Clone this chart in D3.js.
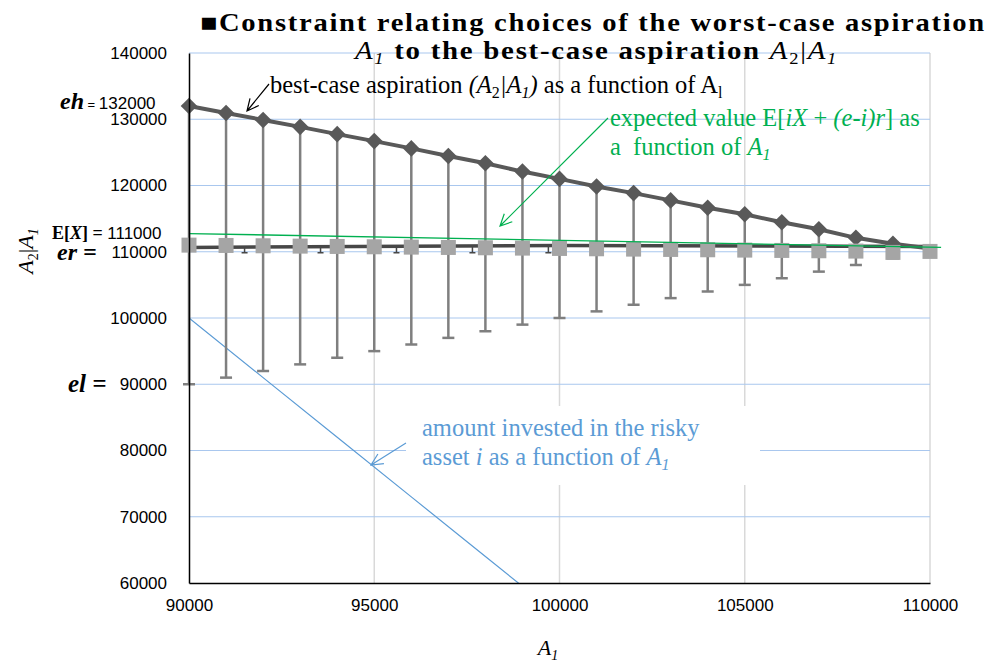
<html>
<style>
    body {
        margin: 0;
        background: #ffffff;
    }
    svg text {
        font-family: "Liberation Serif", "Times New Roman", serif;
        white-space: pre;
    }
    .tick text {
        font-family: "Liberation Sans", Arial, Helvetica, sans-serif;
        font-size: 17px;
        fill: #000000;
    }
</style>

<script src="https://d3js.org/d3.v7.min.js"></script>

<body>
<svg id="Chart"></svg>
</body>

<script>
// worst-case aspiration A1 (x positions of the markers)
let A1 = [90000, 91000, 92000, 93000, 94000, 95000, 96000, 97000, 98000, 99000,
          100000, 101000, 102000, 103000, 104000, 105000, 106000, 107000, 108000, 109000, 110000]
// best-case aspiration A2|A1 (diamonds)
let bestCase = [132000, 130950, 129900, 128850, 127750, 126700, 125600, 124450, 123350, 122100,
                121000, 119850, 118850, 117750, 116650, 115650, 114450, 113400, 112100, 111200, 110500]
// grey squares
let squareVals = [111000, 110950, 110900, 110850, 110800, 110750, 110700, 110650, 110600, 110550,
                  110500, 110450, 110400, 110350, 110300, 110250, 110200, 110150, 110100, 109900, 110050]
// lower ends of the error bars
let barLow = [90000, 91000, 92000, 93000, 94000, 95000, 96000, 97000, 98000, 99000,
              100000, 101000, 102000, 103000, 104000, 105000, 106000, 107000, 108000, 109000, 110000]
// dark line behind the squares
let darkX = [90000, 100000, 110000]
let darkY = [110650, 110950, 110800]
let capX = [91500, 93550, 95600, 97650, 99700]
// expected value (green)
let greenX = [90000, 110300]
let greenY = [112750, 110650]
// amount invested in the risky asset (blue)
let blueX = [90000, 92000, 94000, 96000, 98000, 100000]
let blueY = [100000, 91000, 82000, 73000, 64000, 55000]

let xTicks = [90000, 95000, 100000, 105000, 110000]
let yTicks = [60000, 70000, 80000, 90000, 100000, 110000, 120000, 130000, 140000]

let width = 994, height = 663
let svg = d3.select('#Chart').attr('width', width).attr('height', height)

let x = d3.scaleLinear().domain([90000, 110000]).range([189, 930])
let y = d3.scaleLinear().domain([60000, 140000]).range([583, 53])

let SANS = '"Liberation Sans", Arial, Helvetica, sans-serif'

// clip for data lines
svg.append('clipPath').attr('id', 'plotClip')
    .append('rect').attr('x', 189).attr('y', 40).attr('width', 760).attr('height', 543)

// gridlines
svg.append('g').selectAll('line').data(xTicks.slice(1)).enter().append('line')
    .attr('x1', d => x(d)).attr('x2', d => x(d))
    .attr('y1', y(140000)).attr('y2', y(60000))
    .attr('stroke', '#d9d9d9').attr('stroke-width', 1.5)
svg.append('g').selectAll('line').data(yTicks.slice(1)).enter().append('line')
    .attr('x1', x(90000)).attr('x2', x(110000))
    .attr('y1', d => y(d)).attr('y2', d => y(d))
    .attr('stroke', '#a9c7ee').attr('stroke-width', 1)

// white box behind the blue note
svg.append('rect').attr('x', 406).attr('y', 406).attr('width', 354).attr('height', 79).attr('fill', '#ffffff')

// title
svg.append('text')
    .attr('x', 200).attr('y', 31)
    .attr('textLength', 786).attr('lengthAdjust', 'spacingAndGlyphs')
    .style('font-size', '25px').style('font-weight', 'bold').style('letter-spacing', '1.5px')
    .text('\u25A0Constraint relating choices of the worst-case aspiration')
let t2 = svg.append('text')
    .attr('x', 355).attr('y', 59)
    .attr('textLength', 483).attr('lengthAdjust', 'spacingAndGlyphs')
    .style('font-size', '25px').style('font-weight', 'bold').style('letter-spacing', '1.5px')
t2.append('tspan').style('font-style', 'italic').style('font-weight', 'normal').text('A')
t2.append('tspan').attr('dy', 5).style('font-size', '16px').style('font-style', 'italic').style('font-weight', 'normal').text('1')
t2.append('tspan').attr('dy', -5).text(' to the best-case aspiration ')
t2.append('tspan').style('font-style', 'italic').style('font-weight', 'normal').text('A')
t2.append('tspan').attr('dy', 5).style('font-size', '16px').style('font-weight', 'normal').text('2')
t2.append('tspan').attr('dy', -5).style('font-weight', 'normal').text('|')
t2.append('tspan').style('font-style', 'italic').style('font-weight', 'normal').text('A')
t2.append('tspan').attr('dy', 5).style('font-size', '16px').style('font-style', 'italic').style('font-weight', 'normal').text('1')

// blue line
let line = d3.line().x(d => x(d[0])).y(d => y(d[1]))
svg.append('path')
    .datum(d3.zip(blueX, blueY))
    .attr('clip-path', 'url(#plotClip)')
    .attr('d', line)
    .attr('fill', 'none').attr('stroke', '#5b9bd5').attr('stroke-width', 1.2)

// error bars
let bars = d3.zip(A1, barLow, bestCase).filter(d => d[2] > d[1])
svg.append('g').selectAll('line').data(bars).enter().append('line')
    .attr('x1', d => x(d[0])).attr('x2', d => x(d[0]))
    .attr('y1', d => y(d[1])).attr('y2', d => y(d[2]))
    .attr('stroke', '#7f7f7f').attr('stroke-width', 2.5)
svg.append('g').selectAll('line').data(bars).enter().append('line')
    .attr('x1', d => x(d[0]) - 6).attr('x2', d => x(d[0]) + 6)
    .attr('y1', d => y(d[1])).attr('y2', d => y(d[1]))
    .attr('stroke', '#7f7f7f').attr('stroke-width', 2.5)

// dark line and its small caps
svg.append('path')
    .datum(d3.zip(darkX, darkY))
    .attr('d', line)
    .attr('fill', 'none').attr('stroke', '#474747').attr('stroke-width', 3.5)
let darkAt = d3.scaleLinear().domain(darkX).range(darkY)
svg.append('g').selectAll('path').data(capX).enter().append('path')
    .attr('d', d => `M${x(d)},${y(darkAt(d))}V${y(110000) + 1}M${x(d) - 3},${y(110000) + 1}H${x(d) + 3}`)
    .attr('fill', 'none').attr('stroke', '#474747').attr('stroke-width', 1.5)

// best-case line + diamonds
svg.append('path')
    .datum(d3.zip(A1, bestCase))
    .attr('d', line)
    .attr('fill', 'none').attr('stroke', '#595959').attr('stroke-width', 4)
svg.append('g').selectAll('path').data(d3.zip(A1, bestCase).filter(d => d[0] < 110000)).enter().append('path')
    .attr('transform', d => `translate(${x(d[0])},${y(d[1])})`)
    .attr('d', d3.symbol(d3.symbolDiamond2, 175))
    .attr('fill', '#595959')

// squares
svg.append('g').selectAll('rect').data(d3.zip(A1, squareVals)).enter().append('rect')
    .attr('x', d => x(d[0]) - 7.5).attr('y', d => y(d[1]) - 7.5)
    .attr('width', 15).attr('height', 15)
    .attr('fill', '#a5a5a5')

// green line
svg.append('path')
    .datum(d3.zip(greenX, greenY))
    .attr('d', line)
    .attr('fill', 'none').attr('stroke', '#00b050').attr('stroke-width', 1.3)

// axes
svg.append('g').attr('transform', `translate(${x(90000)},0)`)
    .call(d3.axisLeft(y).tickValues(yTicks).tickSize(0).tickPadding(22).tickFormat(d3.format('d')))
svg.append('g').attr('transform', `translate(0,${y(60000)})`)
    .call(d3.axisBottom(x).tickValues(xTicks).tickSize(0).tickPadding(16).tickFormat(d3.format('d')))
svg.selectAll('.domain').attr('stroke', '#000000').attr('stroke-width', 1.5)

// rich text helper
function label(xp, yp, parts, anchor) {
    let t = svg.append('text').attr('x', xp).attr('y', yp).attr('text-anchor', anchor || 'start')
    parts.forEach(p => {
        let s = t.append('tspan').text(p.text)
        if (p.family) s.style('font-family', p.family)
        if (p.size) s.style('font-size', p.size + 'px')
        if (p.bold) s.style('font-weight', 'bold')
        if (p.italic) s.style('font-style', 'italic')
        if (p.dy) s.attr('dy', p.dy)
    })
    return t
}
// extra y labels
label(60, 109, [{text: 'eh', size: 24, bold: true, italic: true},
                {text: ' = ', family: SANS, size: 13},
                {text: '132000', family: SANS, size: 17}])
label(52, 239, [{text: 'E[', size: 18, bold: true},
                {text: 'X', size: 18, bold: true, italic: true},
                {text: '] = ', size: 18, bold: true},
                {text: '111000', family: SANS, size: 17}])
label(57, 260, [{text: 'er =', size: 24, bold: true, italic: true}])
label(68, 392, [{text: 'el =', size: 25, bold: true, italic: true}])

// axis titles
label(548, 655, [{text: 'A', size: 22, italic: true},
                 {text: '1', size: 14, italic: true, dy: 5}], 'middle')
label(0, 0, [{text: 'A', size: 22, italic: true},
             {text: '2', size: 14, dy: 5},
             {text: '|', size: 22, dy: -5},
             {text: 'A', size: 22, italic: true},
             {text: '1', size: 14, italic: true, dy: 5}], 'middle')
    .attr('transform', 'translate(33,251) rotate(-90)')

// annotations
function arrow(x1, y1, x2, y2, color) {
    let a = Math.atan2(y2 - y1, x2 - x1), L = 13, w = 0.45
    let p = `M${x1},${y1}L${x2},${y2}` +
        `M${x2 - L * Math.cos(a - w)},${y2 - L * Math.sin(a - w)}L${x2},${y2}` +
        `L${x2 - L * Math.cos(a + w)},${y2 - L * Math.sin(a + w)}`
    svg.append('path').attr('d', p).attr('fill', 'none').attr('stroke', color).attr('stroke-width', 1.2)
}
arrow(269, 84, 247, 111, '#000000')
arrow(608, 118, 500, 226, '#00b050')
arrow(406, 443, 371, 465, '#5b9bd5')

label(270, 93, [{text: 'best-case aspiration ', size: 24.5},
                {text: '(A', size: 24.5, italic: true},
                {text: '2', size: 16, dy: 5},
                {text: '|A', size: 24.5, italic: true, dy: -5},
                {text: '1', size: 16, italic: true, dy: 5},
                {text: ')', size: 24.5, italic: true, dy: -5},
                {text: ' as a function of A', size: 24.5},
                {text: 'l', size: 16, dy: 5}]).attr('fill', '#000000')

label(610, 126, [{text: 'expected value E[', size: 24.5},
                 {text: 'iX', size: 24.5, italic: true},
                 {text: ' + ', size: 24.5},
                 {text: '(e-i)r', size: 24.5, italic: true},
                 {text: '] as', size: 24.5}]).attr('fill', '#00b050')
label(610, 155, [{text: 'a  function of ', size: 24.5},
                 {text: 'A', size: 24.5, italic: true},
                 {text: '1', size: 16, italic: true, dy: 5}]).attr('fill', '#00b050')

label(422, 436, [{text: 'amount invested in the risky', size: 24.5}]).attr('fill', '#5b9bd5')
label(422, 465, [{text: 'asset ', size: 24.5},
                 {text: 'i', size: 24.5, italic: true},
                 {text: ' as a function of ', size: 24.5},
                 {text: 'A', size: 24.5, italic: true},
                 {text: '1', size: 16, italic: true, dy: 5}]).attr('fill', '#5b9bd5')
</script>
</html>
